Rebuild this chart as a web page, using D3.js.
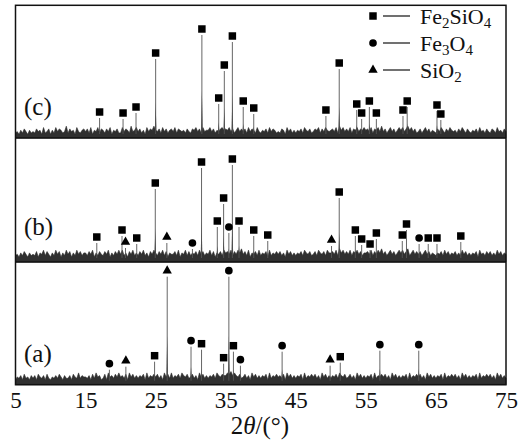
<!DOCTYPE html>
<html>
<head>
<meta charset="utf-8">
<script src="https://cdn.jsdelivr.net/npm/d3@7/dist/d3.min.js"></script>
<style>
  html, body { margin: 0; padding: 0; background: #fff; }
  svg { display: block; }
  text { font-family: "Liberation Serif", "Times New Roman", serif; fill: #111; }
</style>
</head>
<body>
<svg id="chart" width="527" height="444"></svg>
<script>
// 2θ axis ticks
const xTicks = [5, 15, 25, 35, 45, 55, 65, 75];

// Indexed reflections: [2θ (°), intensity (a.u.), phase]
const peaksA = [
  [18.4, 14, "Fe3O4"], [20.75, 17, "SiO2"], [24.85, 22, "Fe2SiO4"],
  [26.65, 107, "SiO2"], [30.05, 37, "Fe3O4"], [31.55, 34, "Fe2SiO4"],
  [34.7, 20, "Fe2SiO4"], [35.45, 107, "Fe3O4"], [36.1, 32, "Fe2SiO4"],
  [37.1, 18, "Fe3O4"], [43.05, 32, "Fe3O4"], [49.9, 18, "SiO2"],
  [51.35, 21, "Fe2SiO4"], [57.0, 33, "Fe3O4"], [62.55, 33, "Fe3O4"]
];
const peaksB = [
  [16.6, 18, "Fe2SiO4"], [20.2, 25, "Fe2SiO4"], [20.7, 13, "SiO2"],
  [22.3, 17, "Fe2SiO4"], [24.95, 72, "Fe2SiO4"], [26.6, 18, "SiO2"],
  [30.25, 12, "Fe3O4"], [31.55, 93, "Fe2SiO4"], [33.8, 34, "Fe2SiO4"],
  [34.7, 57, "Fe2SiO4"], [35.45, 28, "Fe3O4"], [35.95, 96, "Fe2SiO4"],
  [36.9, 34, "Fe2SiO4"], [39.0, 25, "Fe2SiO4"], [41.0, 20, "Fe2SiO4"],
  [50.1, 15, "SiO2"], [51.2, 63, "Fe2SiO4"], [53.5, 25, "Fe2SiO4"],
  [54.4, 16, "Fe2SiO4"], [55.6, 11, "Fe2SiO4"], [56.5, 22, "Fe2SiO4"],
  [60.2, 20, "Fe2SiO4"], [60.8, 31, "Fe2SiO4"], [62.6, 17, "Fe3O4"],
  [63.9, 17, "Fe2SiO4"], [65.15, 17, "Fe2SiO4"], [68.55, 19, "Fe2SiO4"]
];
const peaksC = [
  [17.0, 19, "Fe2SiO4"], [20.35, 18, "Fe2SiO4"], [22.2, 24, "Fe2SiO4"],
  [25.0, 78, "Fe2SiO4"], [31.6, 102, "Fe2SiO4"], [34.0, 33, "Fe2SiO4"],
  [34.8, 66, "Fe2SiO4"], [35.95, 95, "Fe2SiO4"], [37.5, 30, "Fe2SiO4"],
  [39.0, 23, "Fe2SiO4"], [49.3, 21, "Fe2SiO4"], [51.2, 68, "Fe2SiO4"],
  [53.7, 27, "Fe2SiO4"], [54.4, 18, "Fe2SiO4"], [55.5, 30, "Fe2SiO4"],
  [56.5, 18, "Fe2SiO4"], [60.3, 21, "Fe2SiO4"], [60.9, 30, "Fe2SiO4"],
  [65.15, 26, "Fe2SiO4"], [65.7, 17, "Fe2SiO4"]
];

// Background counts, one digit per 0.25° step from 5° to 75°
// (each digit is in units of noiseUnit a.u.)
const noiseStep = 0.25;
const noiseUnit = 1.35;
const noiseA =
  "3546374536 4637546374 3546475364 4637548465 5463748563 4738564758 " +
  "5647385746 4657384657 5746385748 4657486574 5746385746 4657486576 " +
  "6879686574 5746385746 4657384657 5647385746 4657384657 5746385746 " +
  "4657486574 5746385746 4657384657 5746385746 4657384657 5746385746 " +
  "4657384657 5746385746 4657384657 5746385746 4";
const noiseB =
  "4536475364 5473658475 3648573648 5736485746 6475836475 4758364758 " +
  "5846375846 4758463758 6475847365 5748365847 4657485746 5847365748 " +
  "6758475869 5748365748 4657384657 5746385746 4657486574 5748657486 " +
  "6758496857 5847685746 6758475869 5746857468 6857946857 5746857465 " +
  "4657485746 5746485746 4657385647 5746485746 5";
const noiseC =
  "3425364253 4364527346 2537465348 3645274356 4637254736 5364725463 " +
  "3746538457 4635274658 5463746356 4736545364 3657463745 5746354675 " +
  "6574635746 4637465374 3546374653 4365274635 3546375463 4657364754 " +
  "5647385746 4736574657 5647365748 4635746357 5746857463 4635746354 " +
  "3647536475 4536475364 3546374536 4365374536 4";

const legendItems = [
  { phase: "Fe2SiO4", parts: [["Fe", 0], ["2", 1], ["SiO", 0], ["4", 1]] },
  { phase: "Fe3O4",   parts: [["Fe", 0], ["3", 1], ["O", 0], ["4", 1]] },
  { phase: "SiO2",    parts: [["SiO", 0], ["2", 1]] }
];

const svg = d3.select("#chart");

const x = d3.scaleLinear().domain([5, 75]).range([15.5, 506]);

const panels = [
  { label: "(c)", top: 5.3, bottom: 138, peaks: peaksC, noise: noiseC, labelY: 115 },
  { label: "(b)", top: 138, bottom: 262, peaks: peaksB, noise: noiseB, labelY: 235 },
  { label: "(a)", top: 262, bottom: 384.7, peaks: peaksA, noise: noiseA, labelY: 362 }
];

const symbolOf = {
  Fe2SiO4: d3.symbol().type(d3.symbolSquare).size(56),
  Fe3O4: d3.symbol().type(d3.symbolCircle).size(46),
  SiO2: d3.symbol().type(d3.symbolTriangle).size(38)
};

panels.forEach(p => {
  const y = d3.scaleLinear().domain([0, 130]).range([p.bottom - 1, p.bottom - 131]);
  const g = svg.append("g");

  const counts = p.noise.replace(/\s+/g, "").split("").map(Number)
    .map((v, i) => [5 + i * noiseStep, v * noiseUnit]);

  // background trace
  g.append("path")
    .attr("d", d3.area().x(d => x(d[0])).y0(p.bottom).y1(d => y(d[1]))(counts))
    .attr("fill", "#303030")
    .attr("stroke", "#2a2a2a")
    .attr("stroke-width", 0.6);

  // reflections: narrow dark foot with a thin line to the maximum
  g.selectAll("path.peak")
    .data(p.peaks)
    .join("path")
    .attr("class", "peak")
    .attr("d", d => d3.line()([
      [x(d[0] - 0.12), y(4)], [x(d[0]), y(d[1] * 0.45)], [x(d[0] + 0.12), y(4)]
    ]) + "Z")
    .attr("fill", "#333");
  g.selectAll("line.peak")
    .data(p.peaks)
    .join("line")
    .attr("class", "peak")
    .attr("x1", d => x(d[0])).attr("x2", d => x(d[0]))
    .attr("y1", y(3)).attr("y2", d => y(d[1]))
    .attr("stroke", "#555")
    .attr("stroke-width", 0.9);

  // phase markers
  g.selectAll("path.mark")
    .data(p.peaks)
    .join("path")
    .attr("class", "mark")
    .attr("transform", d => `translate(${x(d[0])},${y(d[1]) - 6})`)
    .attr("d", d => symbolOf[d[2]]())
    .attr("fill", "#000");

  g.append("text")
    .attr("x", 24)
    .attr("y", p.labelY)
    .attr("font-size", 25)
    .text(p.label);
});

// frame and panel dividers
svg.append("rect")
  .attr("x", 15.5).attr("y", 5.3)
  .attr("width", 506 - 15.5).attr("height", 384.7 - 5.3)
  .attr("fill", "none").attr("stroke", "#111").attr("stroke-width", 1.5);
[138, 262].forEach(yy => {
  svg.append("line")
    .attr("x1", 15.5).attr("x2", 506).attr("y1", yy).attr("y2", yy)
    .attr("stroke", "#111").attr("stroke-width", 1.5);
});

// bottom axis
const axis = svg.append("g")
  .attr("transform", "translate(0,384.7)")
  .call(d3.axisBottom(x).tickValues(xTicks).tickSize(0).tickPadding(7).tickFormat(d3.format("d")));
axis.select(".domain").remove();
axis.selectAll("text")
  .attr("font-family", "Liberation Serif, Times New Roman, serif")
  .attr("font-size", 23)
  .attr("fill", "#111");

// axis title
const title = svg.append("text")
  .attr("x", 260).attr("y", 434)
  .attr("text-anchor", "middle")
  .attr("font-size", 25);
title.append("tspan").text("2");
title.append("tspan").attr("font-style", "italic").text("θ");
title.append("tspan").text("/(°)");

// legend
const legend = svg.append("g");
legendItems.forEach((it, i) => {
  const cy = 16 + i * 27;
  legend.append("path")
    .attr("transform", `translate(373,${cy})`)
    .attr("d", symbolOf[it.phase]())
    .attr("fill", "#000");
  legend.append("line")
    .attr("x1", 383).attr("x2", 410).attr("y1", cy).attr("y2", cy)
    .attr("stroke", "#111").attr("stroke-width", 1.2);
  const t = legend.append("text")
    .attr("x", 420).attr("y", cy + 8)
    .attr("font-size", 22);
  let shifted = false;
  it.parts.forEach(([s, sub]) => {
    const ts = t.append("tspan").text(s);
    if (sub) { ts.attr("font-size", 15).attr("dy", 4); shifted = true; }
    else if (shifted) { ts.attr("dy", -4); shifted = false; }
  });
});
</script>
</body>
</html>
